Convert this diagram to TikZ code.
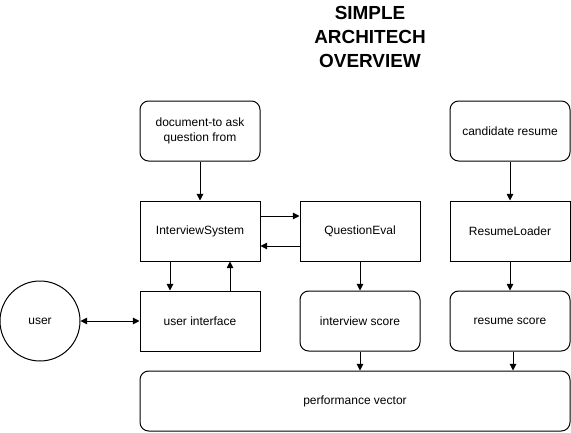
\documentclass[tikz,border=0pt]{standalone}
\usepackage{fontspec}
\setmainfont{Liberation Sans}
\usetikzlibrary{arrows.meta}
\begin{document}
\begin{tikzpicture}[x=0.75pt,y=-0.75pt,
  box/.style={draw,line width=0.75pt,minimum width=90pt,minimum height=45pt,inner sep=0pt,font=\fontsize{9pt}{11pt}\selectfont,align=center},
  rbox/.style={box,rounded corners=6.5pt},
  conn/.style={line width=0.75pt,-{Triangle[length=5pt,width=5pt]}},
  title/.style={font=\fontsize{14.2pt}{18pt}\selectfont\bfseries,align=center}]
\useasboundingbox (0,0) rectangle (571,432);
\node[title] (t) at (370,37) {SIMPLE\\ARCHITECH\\OVERVIEW};
\node[rbox] (doc) at (200,131) {document-to ask\\question from};
\node[box] (is) at (200,231) {InterviewSystem};
\node[box] (qe) at (360,231) {QuestionEval};
\node[rbox] (cr) at (510,131) {candidate resume};
\node[box] (rl) at (510,231) {ResumeLoader};
\node[box] (ui) at (200,321) {user interface};
\node[rbox] (isc) at (360,321) {interview score};
\node[rbox] (rsc) at (510,321) {resume score};
\node[rbox,minimum width=322.5pt] (pv) at (355,401) {performance vector};
\node[draw,circle,line width=0.75pt,minimum size=60pt,inner sep=0pt,font=\fontsize{9pt}{11pt}\selectfont] (u) at (40,321) {user};
\draw[conn] (doc) -- (is);
\draw[conn] (cr) -- (rl);
\draw[conn] (is.east |- 0,216) -- (qe.west |- 0,216);
\draw[conn] (qe.west |- 0,246) -- (is.east |- 0,246);
\draw[conn] (is.south -| 170,0) -- (ui.north -| 170,0);
\draw[conn] (ui.north -| 230,0) -- (is.south -| 230,0);
\draw[conn,{Triangle[length=5pt,width=5pt]}-{Triangle[length=5pt,width=5pt]}] (u) -- (ui);
\draw[conn] (qe) -- (isc);
\draw[conn] (rl) -- (rsc);
\draw[conn] (isc) -- (pv.north -| isc);
\draw[conn] (rsc.south -| 513,0) -- (pv.north -| 513,0);
\end{tikzpicture}
\end{document}
